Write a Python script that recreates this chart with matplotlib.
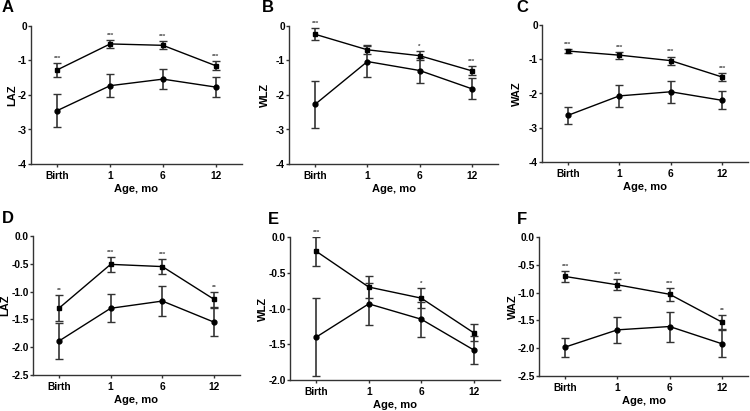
import numpy as np
import matplotlib
matplotlib.use("Agg")
import matplotlib.pyplot as plt

plt.rcParams["font.family"] = ["Liberation Sans", "DejaVu Sans"]
plt.rcParams["font.weight"] = "bold"
plt.rcParams["axes.unicode_minus"] = False

# =========================
# DATOS
# =========================
edades = ["Birth", "1", "6", "12"]

a_alto = [-1.27, -0.52, -0.56, -1.15]
a_alto_err = [0.21, 0.12, 0.12, 0.13]
a_bajo = [-2.45, -1.73, -1.54, -1.77]
a_bajo_err = [0.47, 0.33, 0.30, 0.29]
a_sig = ["***", "***", "***", "***"]

b_alto = [-0.24, -0.69, -0.86, -1.30]
b_alto_err = [0.18, 0.13, 0.14, 0.13]
b_bajo = [-2.27, -1.03, -1.29, -1.82]
b_bajo_err = [0.69, 0.44, 0.35, 0.31]
b_sig = ["***", "", "*", "***"]

c_alto = [-0.76, -0.88, -1.04, -1.52]
c_alto_err = [0.05, 0.10, 0.12, 0.12]
c_bajo = [-2.64, -2.07, -1.95, -2.20]
c_bajo_err = [0.25, 0.33, 0.32, 0.26]
c_sig = ["***", "***", "***", "***"]

d_alto = [-1.30, -0.51, -0.55, -1.14]
d_alto_err = [0.23, 0.13, 0.13, 0.13]
d_bajo = [-1.89, -1.30, -1.17, -1.55]
d_bajo_err = [0.32, 0.25, 0.27, 0.25]
d_sig = ["**", "***", "***", "**"]

e_alto = [-0.20, -0.70, -0.855, -1.34]
e_alto_err = [0.20, 0.155, 0.14, 0.12]
e_bajo = [-1.40, -0.935, -1.15, -1.58]
e_bajo_err = [0.54, 0.29, 0.245, 0.19]
e_sig = ["***", "", "*", ""]

f_alto = [-0.71, -0.86, -1.03, -1.53]
f_alto_err = [0.10, 0.10, 0.12, 0.12]
f_bajo = [-1.98, -1.67, -1.61, -1.92]
f_bajo_err = [0.17, 0.24, 0.27, 0.24]
f_sig = ["***", "***", "***", "**"]

ANCHO, ALTO = 750, 411

# =========================
# FUNCION DE PANEL
# =========================
def panel(fig, caja, letra, ylabel, alto, alto_err, bajo, bajo_err, sig,
          yticks, ytexto, off_ylabel, off_letra):
    # caja en pixeles: izquierda, arriba, derecha, abajo
    izq, arr, der, aba = caja
    w, h = der - izq, aba - arr
    ax = fig.add_axes([izq / ANCHO, 1 - aba / ALTO, w / ANCHO, h / ALTO])
    x = np.arange(len(edades))
    ax.errorbar(x, bajo, yerr=bajo_err, fmt="-o", color="black", ecolor="#333333",
                markersize=3.5, linewidth=1, elinewidth=1.2, capsize=3, capthick=1)
    ax.errorbar(x, alto, yerr=alto_err, fmt="-s", color="black", ecolor="#333333",
                markersize=3.5, linewidth=1, elinewidth=1.2, capsize=3, capthick=1)
    for xi, yi, ei, s in zip(x, alto, alto_err, sig):
        if s:
            ax.annotate(s, (xi, yi + ei), xytext=(0, 1.5), textcoords="offset points",
                        ha="center", va="bottom", fontsize=4.5, color="#444444")
    ax.set_xlim(-0.5, 3.5)
    ax.set_ylim(yticks[-1], yticks[0])
    ax.set_xticks(x)
    ax.set_xticklabels(edades, fontsize=7.3, fontweight="bold")
    ax.set_yticks(yticks)
    ax.set_yticklabels(ytexto, fontsize=7.3, fontweight="bold")
    ax.set_xlabel("Age, mo", fontsize=8, fontweight="bold")
    ax.set_ylabel(ylabel, fontsize=8, fontweight="bold")
    ax.xaxis.set_label_coords(0.5, -25 / h)
    ax.xaxis.label.set_va("center")
    ax.yaxis.set_label_coords(-off_ylabel / w, 0.5)
    ax.yaxis.label.set_va("center")
    ax.spines["top"].set_visible(False)
    ax.spines["right"].set_visible(False)
    for lado in ["left", "bottom"]:
        ax.spines[lado].set_linewidth(1)
        ax.spines[lado].set_color("#333333")
    ax.tick_params(direction="out", length=2, width=1, pad=1, color="#333333")
    ax.tick_params(axis="x", pad=3)
    fig.text((izq - off_letra) / ANCHO, 1 - (arr - 18) / ALTO, letra, fontsize=12,
             fontweight="bold", va="center", ha="left")
    return ax

# =========================
# FIGURA
# =========================
fig = plt.figure(figsize=(7.5, 4.11), dpi=100)

ticks_arriba = [0, -1, -2, -3, -4]
texto_arriba = ["0", "-1", "-2", "-3", "-4"]

panel(fig, (31, 26, 242, 164), "A", "LAZ",
      a_alto, a_alto_err, a_bajo, a_bajo_err, a_sig, ticks_arriba, texto_arriba, 19, 29)
panel(fig, (289, 26, 498, 164), "B", "WLZ",
      b_alto, b_alto_err, b_bajo, b_bajo_err, b_sig, ticks_arriba, texto_arriba, 24, 27)
panel(fig, (542, 25, 748, 162), "C", "WAZ",
      c_alto, c_alto_err, c_bajo, c_bajo_err, c_sig, ticks_arriba, texto_arriba, 25, 26)

panel(fig, (33, 236, 240, 375), "D", "LAZ",
      d_alto, d_alto_err, d_bajo, d_bajo_err, d_sig,
      [0.0, -0.5, -1.0, -1.5, -2.0, -2.5], ["0.0", "-0.5", "-1.0", "-1.5", "-2.0", "-2.5"],
      28, 31)
panel(fig, (290, 237, 500, 380), "E", "WLZ",
      e_alto, e_alto_err, e_bajo, e_bajo_err, e_sig,
      [0.0, -0.5, -1.0, -1.5, -2.0], ["0.0", "-0.5", "-1.0", "-1.5", "-2.0"],
      27, 22)
panel(fig, (539, 237, 748, 376), "F", "WAZ",
      f_alto, f_alto_err, f_bajo, f_bajo_err, f_sig,
      [0.0, -0.5, -1.0, -1.5, -2.0, -2.5], ["0.0", "-0.5", "-1.0", "-1.5", "-2.0", "-2.5"],
      26, 22)

fig.savefig("out.png", dpi=100)
plt.close()
